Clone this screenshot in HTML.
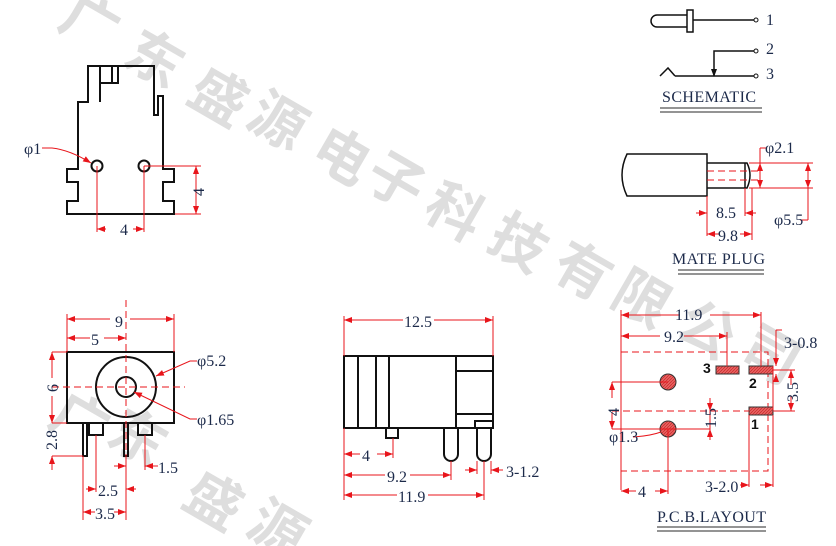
<!DOCTYPE html>
<html><head><meta charset="utf-8"><style>
html,body{margin:0;padding:0;background:#fff;width:836px;height:546px;overflow:hidden}
svg{display:block;overflow:hidden}
.t{font-family:"Liberation Serif",serif;font-size:16px;fill:#1c2a4a}
.wm{font-family:"Liberation Sans","Noto Sans CJK SC",sans-serif;font-size:56px;font-weight:bold;fill:#dedede}
.k{stroke:#111;stroke-width:2;fill:none}
.r{stroke:#e8151b;stroke-width:1;fill:none}
.rd{stroke:#e8151b;stroke-width:1;fill:none;stroke-dasharray:7,4}
</style></head><body>
<svg width="836" height="546" viewBox="0 0 836 546" xmlns="http://www.w3.org/2000/svg">
<defs>
<marker id="ar" markerWidth="8" markerHeight="6" refX="8" refY="3" orient="auto-start-reverse" markerUnits="userSpaceOnUse"><path d="M0,0 L8,3 L0,6 Z" fill="#e8151b"/></marker>
<pattern id="hp" width="3" height="3" patternUnits="userSpaceOnUse"><rect width="3" height="3" fill="#e86060"/><path d="M0,3 L3,0" stroke="#c02020" stroke-width="0.6"/></pattern>
</defs>
<g class="wm">
<text transform="translate(80,40) rotate(30)" text-anchor="middle">广</text>
<text transform="translate(145,76) rotate(30)" text-anchor="middle">东</text>
<text transform="translate(209,114) rotate(30)" text-anchor="middle">盛</text>
<text transform="translate(268,138) rotate(30)" text-anchor="middle">源</text>
<text transform="translate(332,173) rotate(30)" text-anchor="middle">电</text>
<text transform="translate(386,198) rotate(30)" text-anchor="middle">子</text>
<text transform="translate(445,229) rotate(30)" text-anchor="middle">科</text>
<text transform="translate(509,260) rotate(30)" text-anchor="middle">技</text>
<text transform="translate(573,288) rotate(30)" text-anchor="middle">有</text>
<text transform="translate(632,316) rotate(30)" text-anchor="middle">限</text>
<text transform="translate(697,347) rotate(30)" text-anchor="middle">公</text>
<text transform="translate(761,372) rotate(30)" text-anchor="middle">司</text>
<text transform="translate(70,438) rotate(30)" text-anchor="middle">广</text>
<text transform="translate(128,455) rotate(30)" text-anchor="middle">东</text>
<text transform="translate(204,518) rotate(30)" text-anchor="middle">盛</text>
<text transform="translate(268,546) rotate(30)" text-anchor="middle">源</text>
</g>

<!-- Drawing 1 -->
<path class="k" d="M88,66 L154,66 L154,115 L158,115 L158,96 L163,96 L163,169 L174,169 L174,182 L163,182 L163,201 L174,201 L174,214 L67,214 L67,201 L78,201 L78,182 L67,182 L67,169 L78,169 L78,102 L88,102 Z"/>
<path class="k" d="M100,66 V102 M100,83 H118 V66 M112,66 V83"/>
<circle class="k" cx="97" cy="166" r="5.5"/><circle class="k" cx="144" cy="166" r="5.5"/>
<path class="r" d="M97,166 V232 M144,166 V232 M144,166 H201 M175,214 H201"/>
<line class="r" x1="106" y1="229" x2="97" y2="229" marker-end="url(#ar)"/><line class="r" x1="133" y1="229" x2="144" y2="229" marker-end="url(#ar)"/>
<line class="r" x1="196" y1="190" x2="196" y2="166" marker-end="url(#ar)"/><line class="r" x1="196" y1="190" x2="196" y2="214" marker-end="url(#ar)"/>
<text class="t" x="120" y="235">4</text>
<text class="t" transform="translate(204,196) rotate(-90)">4</text>
<text class="t" x="24" y="154">φ1</text>
<path class="r" d="M42,148 L52,148 Q70,150 91,163" marker-end="url(#ar)"/>

<!-- Drawing 2 -->
<rect class="k" x="67" y="352" width="107" height="71"/>
<circle class="k" cx="126" cy="387" r="30"/><circle class="k" cx="126" cy="387" r="10"/>
<path class="k" d="M83,423 V456 H87 V423 M124,423 V456 H128 V423 M89,423 V435 H103 V423 M138,423 V435 H152 V423"/>
<path class="rd" d="M52,387 H185 M126,300 V470"/>
<path class="r" d="M67,352 V314 M174,352 V314 M126,333 V340 M52,352 H67 M52,423 H67 M52,456 H83 M52,456 V470 M83,456 V520 M96,435 V492 M126,456 V520 M145,435 V470"/>
<line class="r" x1="110" y1="319" x2="67" y2="319" marker-end="url(#ar)"/><line class="r" x1="130" y1="319" x2="174" y2="319" marker-end="url(#ar)"/>
<line class="r" x1="90" y1="338" x2="67" y2="338" marker-end="url(#ar)"/><line class="r" x1="104" y1="338" x2="126" y2="338" marker-end="url(#ar)"/>
<line class="r" x1="52" y1="378" x2="52" y2="352" marker-end="url(#ar)"/><line class="r" x1="52" y1="396" x2="52" y2="423" marker-end="url(#ar)"/>
<line class="r" x1="52" y1="470" x2="52" y2="456" marker-end="url(#ar)"/>
<line class="r" x1="114" y1="466" x2="126" y2="466" marker-end="url(#ar)"/><line class="r" x1="158" y1="466" x2="145" y2="466" marker-end="url(#ar)"/>
<line class="r" x1="86" y1="489" x2="96" y2="489" marker-end="url(#ar)"/><line class="r" x1="136" y1="489" x2="126" y2="489" marker-end="url(#ar)"/>
<line class="r" x1="95" y1="512" x2="83" y2="512" marker-end="url(#ar)"/><line class="r" x1="114" y1="512" x2="126" y2="512" marker-end="url(#ar)"/>
<text class="t" x="115" y="327">9</text><text class="t" x="91" y="345">5</text>
<text class="t" transform="translate(58,392) rotate(-90)">6</text>
<text class="t" transform="translate(57,450) rotate(-90)">2.8</text>
<text class="t" x="158" y="473">1.5</text><text class="t" x="98" y="496">2.5</text><text class="t" x="95" y="519">3.5</text>
<text class="t" x="197" y="366">φ5.2</text><text class="t" x="197" y="425">φ1.65</text>
<path class="r" d="M197,361 H190 L156,376" marker-end="url(#ar)"/>
<path class="r" d="M197,419 H190 L134,392" marker-end="url(#ar)"/>

<!-- Drawing 3 -->
<rect class="k" x="344" y="356" width="149" height="72"/>
<path class="k" d="M358,356 V428 M376,356 V428 M389,356 V428 M456,356 V428 M456,371 H493 M456,414 H493 M475,428 V421 H492"/>
<path class="k" d="M386,428 V438 H398 V428"/>
<path class="k" d="M444,428 V454 A7,7 0 0 0 458,454 V428 M477,428 V454 A7,7 0 0 0 491,454 V428"/>
<path class="r" d="M344,356 V316 M493,356 V316 M344,428 V500 M393,438 V458 M451,461 V480 M484,461 V500 M477,461 V474 M491,461 V474"/>
<line class="r" x1="403" y1="320" x2="344" y2="320" marker-end="url(#ar)"/><line class="r" x1="434" y1="320" x2="493" y2="320" marker-end="url(#ar)"/>
<line class="r" x1="360" y1="454" x2="344" y2="454" marker-end="url(#ar)"/><line class="r" x1="377" y1="454" x2="393" y2="454" marker-end="url(#ar)"/>
<line class="r" x1="385" y1="475" x2="344" y2="475" marker-end="url(#ar)"/><line class="r" x1="410" y1="475" x2="451" y2="475" marker-end="url(#ar)"/>
<line class="r" x1="397" y1="495" x2="344" y2="495" marker-end="url(#ar)"/><line class="r" x1="428" y1="495" x2="484" y2="495" marker-end="url(#ar)"/>
<line class="r" x1="465" y1="470" x2="477" y2="470" marker-end="url(#ar)"/><line class="r" x1="503" y1="470" x2="491" y2="470" marker-end="url(#ar)"/>
<text class="t" x="404" y="327">12.5</text><text class="t" x="362" y="461">4</text>
<text class="t" x="387" y="482">9.2</text><text class="t" x="398" y="502">11.9</text>
<text class="t" x="506" y="477">3-1.2</text>

<!-- Schematic -->
<path class="k" style="stroke-width:1.5" d="M687,15 H657 A6,6 0 0 0 657,27 H687 M687,10 H693 V32 H687 Z M693,20 H754 M714,76 V51 H754 M675,76 H754 M660,76 L668,68 L675,76"/>
<path d="M711,69 L714,77 L717,69 Z" fill="#111"/>
<circle cx="756" cy="20" r="2" fill="#fff" stroke="#111"/><circle cx="756" cy="51" r="2" fill="#fff" stroke="#111"/><circle cx="756" cy="76" r="2" fill="#fff" stroke="#111"/>
<text class="t" x="766" y="25">1</text><text class="t" x="766" y="54">2</text><text class="t" x="766" y="79">3</text>
<text class="t" x="662" y="102" textLength="94">SCHEMATIC</text>
<path stroke="#555" stroke-width="1.2" d="M660,108 H762 M660,112 H762"/>

<!-- Mate plug -->
<path class="k" style="stroke-width:1.5" d="M707,154 H627 Q617,175 627,196 H707 Z M707,163 H747 Q753,175 747,188 H707 M745,163 V188"/>
<path class="rd" d="M707,171 H760 M707,180 H760"/>
<path class="r" d="M749,163 H813 M749,188 H813 M707,196 V236 M745,188 V216 M752,188 V240 M760,148 V188 M808,163 V220 M800,220 H808"/>
<line class="r" x1="760" y1="168" x2="760" y2="163" marker-end="url(#ar)"/><line class="r" x1="760" y1="184" x2="760" y2="188" marker-end="url(#ar)"/>
<line class="r" x1="808" y1="175" x2="808" y2="163" marker-end="url(#ar)"/><line class="r" x1="808" y1="176" x2="808" y2="188" marker-end="url(#ar)"/>
<line class="r" x1="696" y1="213" x2="707" y2="213" marker-end="url(#ar)"/><line class="r" x1="756" y1="213" x2="745" y2="213" marker-end="url(#ar)"/>
<line class="r" x1="720" y1="234" x2="707" y2="234" marker-end="url(#ar)"/><line class="r" x1="740" y1="234" x2="752" y2="234" marker-end="url(#ar)"/>
<path class="r" d="M760,148 H766"/>
<text class="t" x="765" y="153">φ2.1</text><text class="t" x="774" y="225">φ5.5</text>
<text class="t" x="716" y="218">8.5</text><text class="t" x="718" y="241">9.8</text>
<text class="t" x="672" y="264" textLength="93">MATE PLUG</text>
<path stroke="#555" stroke-width="1.2" d="M678,270 H764 M678,274 H764"/>

<!-- PCB -->
<rect class="rd" x="621" y="352" width="147" height="119"/>
<rect x="716" y="366" width="23" height="8" fill="url(#hp)" stroke="#333"/>
<rect x="749" y="366" width="24" height="8" fill="url(#hp)" stroke="#333"/>
<rect x="749" y="407" width="24" height="8" fill="url(#hp)" stroke="#333"/>
<circle cx="668" cy="382" r="8" fill="url(#hp)" stroke="#333"/><circle cx="668" cy="429" r="8" fill="url(#hp)" stroke="#333"/>
<path class="rd" d="M612,411 H749"/>
<path class="r" d="M621,310 V490 M727,332 V366 M761,312 V366 M612,382 H668 M612,429 H710 M668,429 V494 M773,366 V410 M749,415 V487 M773,415 V487 M773,370 H795 M773,411 H795 M710,398 V440 M776,330 V360 M776,330 H782"/>
<line class="r" x1="680" y1="315" x2="621" y2="315" marker-end="url(#ar)"/><line class="r" x1="710" y1="315" x2="761" y2="315" marker-end="url(#ar)"/>
<line class="r" x1="660" y1="336" x2="621" y2="336" marker-end="url(#ar)"/><line class="r" x1="684" y1="336" x2="727" y2="336" marker-end="url(#ar)"/>
<line class="r" x1="612" y1="398" x2="612" y2="382" marker-end="url(#ar)"/><line class="r" x1="612" y1="412" x2="612" y2="429" marker-end="url(#ar)"/>
<line class="r" x1="791" y1="385" x2="791" y2="370" marker-end="url(#ar)"/><line class="r" x1="791" y1="396" x2="791" y2="411" marker-end="url(#ar)"/>
<line class="r" x1="710" y1="400" x2="710" y2="411" marker-end="url(#ar)"/><line class="r" x1="710" y1="438" x2="710" y2="429" marker-end="url(#ar)"/>
<line class="r" x1="776" y1="358" x2="776" y2="366" marker-end="url(#ar)"/><line class="r" x1="776" y1="380" x2="776" y2="374" marker-end="url(#ar)"/>
<line class="r" x1="636" y1="491" x2="621" y2="491" marker-end="url(#ar)"/><line class="r" x1="655" y1="491" x2="668" y2="491" marker-end="url(#ar)"/>
<line class="r" x1="740" y1="485" x2="749" y2="485" marker-end="url(#ar)"/><line class="r" x1="760" y1="485" x2="773" y2="485" marker-end="url(#ar)"/>
<path class="r" d="M633,437 Q650,436 661,432"/>
<text class="t" x="675" y="320">11.9</text><text class="t" x="664" y="342">9.2</text>
<text class="t" x="784" y="348">3-0.8</text>
<text class="t" transform="translate(798,402) rotate(-90)">3.5</text>
<text class="t" transform="translate(619,416) rotate(-90)">4</text>
<text class="t" transform="translate(716,428) rotate(-90)">1.5</text>
<text class="t" x="609" y="442">φ1.3</text>
<text class="t" x="638" y="497">4</text>
<text class="t" x="705" y="492">3-2.0</text>
<text style="font-family:'Liberation Sans',sans-serif;font-weight:bold;font-size:14px;fill:#111" x="703" y="373">3</text>
<text style="font-family:'Liberation Sans',sans-serif;font-weight:bold;font-size:14px;fill:#111" x="749" y="388">2</text>
<text style="font-family:'Liberation Sans',sans-serif;font-weight:bold;font-size:14px;fill:#111" x="751" y="429">1</text>
<text class="t" x="657" y="522" textLength="109">P.C.B.LAYOUT</text>
<path stroke="#555" stroke-width="1.2" d="M657,527 H766 M657,531 H766"/>
</svg>
</body></html>
